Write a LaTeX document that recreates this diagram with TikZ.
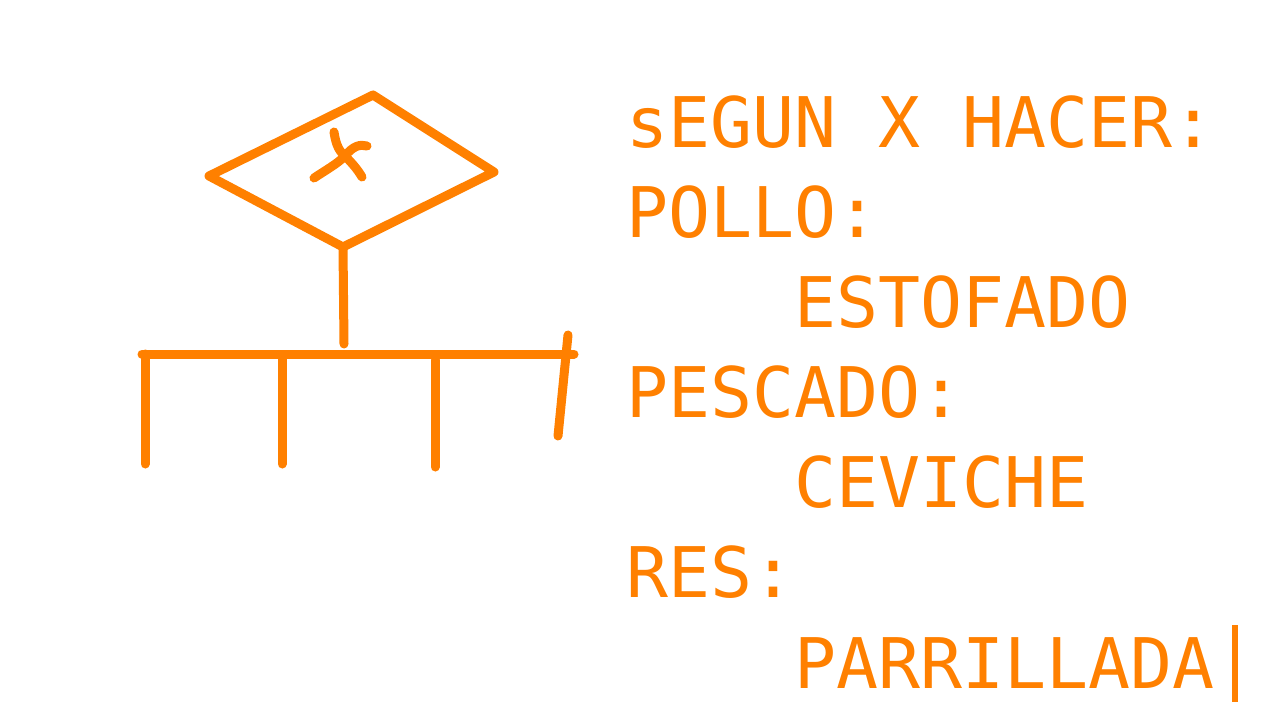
\documentclass[tikz,border=0pt]{standalone}
\usepackage{fontspec}
\newfontfamily\codefont{DejaVu Sans Mono}
\definecolor{sketch}{RGB}{255,128,0}
\begin{document}
\begin{tikzpicture}[x=1pt,y=-1pt,
  stroke/.style={draw=sketch,line width=9pt,line cap=round,line join=round},
  codeline/.style={anchor=base west,inner sep=0pt,outer sep=0pt,text=sketch,
    font=\codefont\fontsize{69.8}{90}\selectfont}]
\useasboundingbox[fill=white] (0,0) rectangle (1280,720);
% diamond
\coordinate (dt) at (373,95);
\coordinate (dr) at (494,172);
\coordinate (db) at (343,247);
\coordinate (dl) at (209,176);
\draw[stroke] (dt) -- (dr) -- (db) -- (dl) -- cycle;
% x mark
\coordinate (xc) at (345,156);
\draw[stroke] (334,132) .. controls (336,146) and (340,152) .. (xc) .. controls (352,163) and (358,170) .. (362,177);
\draw[stroke] (314,178) .. controls (326,170) and (337,164) .. (xc) .. controls (353,146) and (360,144) .. (367,146);
% stem and bar
\coordinate (stemb) at (344,344);
\draw[stroke] (db) -- (stemb);
\coordinate (barl) at (142,354);
\coordinate (barr) at (574,354);
\draw[stroke] (barl) -- (barr);
% legs
\draw[stroke] (145,354) -- (145,464);
\draw[stroke] (282,358) -- (282,464);
\draw[stroke] (435,360) -- (435,467);
\draw[stroke] (568,335) -- (558,436);
% text
\node[codeline] (l1) at (626,147) {sEGUN X HACER:};
\node[codeline] (l2) at (626,237) {POLLO:};
\node[codeline] (l3) at (626,327) {\ \ \ \ ESTOFADO};
\node[codeline] (l4) at (626,417) {PESCADO:};
\node[codeline] (l5) at (626,507) {\ \ \ \ CEVICHE};
\node[codeline] (l6) at (626,597) {RES:};
\node[codeline] (l7) at (626,688) {\ \ \ \ PARRILLADA};
% text cursor
\coordinate (curtop) at (1235,625);
\coordinate (curbot) at (1235,702);
\draw[draw=sketch,line width=6pt] (curtop) -- (curbot);
\end{tikzpicture}
\end{document}
